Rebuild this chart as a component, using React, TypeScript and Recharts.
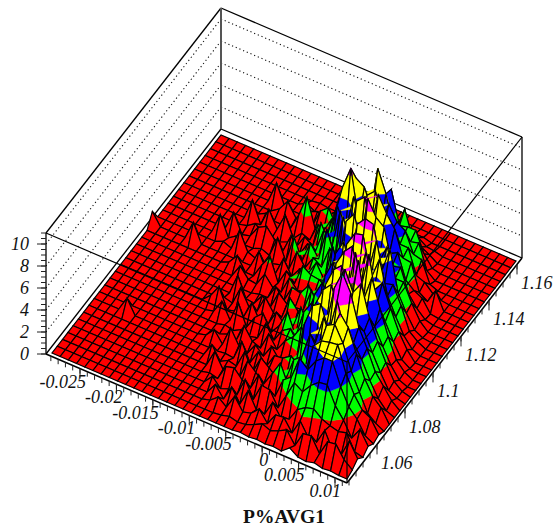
import React from 'react';
import { ScatterChart, Scatter, XAxis, YAxis } from 'recharts';

const WIDTH = 553;
const HEIGHT = 530;

const xLabels = ['-0.025', '-0.02', '-0.015', '-0.01', '-0.005', '0', '0.005', '0.01'];
const xMajor = [-0.025, -0.02, -0.015, -0.01, -0.005, 0, 0.005, 0.01];
const yLabels = ['1.06', '1.08', '1.1', '1.12', '1.14', '1.16'];
const yMajor = [1.06, 1.08, 1.1, 1.12, 1.14, 1.16];
const zMajor = [0, 2, 4, 6, 8, 10];
const zMax = 11;

const bandLevels = [0, 2, 4, 6, 8, 10, 99];
const bandColors = ['#ff0000', '#00ff00', '#0000ff', '#ffff00', '#ff00ff', '#00ffff'];

// surface heights, one row per x step (front of the row = lowest y)
const heights: number[][] = [
  [0,0,0,0,0,0,0,0,0,0,0,0,0,0,0,0,0,0,0,1.1],
  [],
  [],
  [],
  [0,0,0,0,0,0,0,0,1.3],
  [0,0,0,0,0,0,0,0,0,0,0,0,0,0,0,0,0,0,0,1.7],
  [],
  [0,0,0,0,0,0,0,0,0,0,0,0,0,0,0,0,0,0,0,0,0,1.8],
  [0,0,0,0,0,0,0,0,0,0,0,0,0,0,0,0,0,0,0,0,.3,0,1.7],
  [0,0,0,0,0,0,0,0,0,0,0,0,0,0,0,0,0,0,0,0,0,.5,0,.2,1.9],
  [0,0,0,0,0,0,0,0,0,0,0,0,0,0,0,0,0,0,.3,0,1.95,0,.2,.7,0,.4,0,1.9],
  [0,0,0,0,0,0,0,0,0,0,0,0,0,.7,0,0,0,0,1.2,0,.3,0,1.3,0,1.7,0,.5,.1],
  [0,0,0,0,0,0,0,0,0,0,0,0,.2,1.8,.2,0,0,1.2,0,0,0,.3,1.7,0,.2,0,1.5,0,0],
  [0,0,0,0,0,0,0,0,0,.2,0,0,1.4,0,0,1.9,0,.3,0,1.6,0,0,.8,0,1.8,0,.3,0,.4],
  [0,0,0,0,0,0,0,0,0,1.0,0,.2,0,.2,1.7,.1,0,.2,1.3,0,.2,1.9,.1,.3,0,1.5,0,.6,0,.1],
  [0,0,0,0,0,0,0,1.2,0,0,.3,0,1.9,0,.3,0,.2,1.4,2.4,.2,.4,.1,1.8,.2,.8,3.5,.2,.9,.1],
  [0,0,0,0,0,.2,1.5,0,.1,1.8,0,.4,0,1.6,.2,1.0,.2,.5,.3,1.9,.3,2.6,.4,1.4,.5,.9,1.9,.2,.4],
  [0,0,0,0,.8,0,.2,.4,0,.5,1.7,.1,1.2,.2,1.8,.3,1.5,.4,1.7,.6,2.2,.8,1.7,.9,2.2,1.0,2.5,.4,.8,.1],
  [0,0,.2,1.0,0,1.4,.1,.2,1.8,.1,.6,.3,1.9,.3,.7,1.9,.6,2.0,.9,1.6,1.1,2.7,1.4,3.3,1.3,2.4,1.0,1.2,.2],
  [0,0,.8,0,.3,1.6,.1,1.8,.2,1.2,.3,1.9,.5,1.7,.6,1.2,2.1,1.2,2.8,1.5,2.3,1.6,3.6,1.8,3.9,1.9,2.4,.6,.9,.1],
  [0,.1,.2,1.4,.1,.8,1.9,.3,1.5,.5,1.9,.7,1.4,.9,2.7,1.2,1.9,1.4,2.3,2.8,1.8,4.6,2.4,5.5,6.6,3.0,3.4,.7,.4,.2],
  [0,.3,1.5,.2,1.8,.4,1.2,1.9,.5,1.7,.8,1.9,3.0,1.0,1.8,1.3,2.9,1.4,2.2,1.5,3.8,2.3,6.0,3.5,8.6,7.1,4.6,1.0,.6,.2],
  [0,.1,.4,1.7,.3,1.9,.5,1.3,1.8,.7,1.9,2.4,1.1,3.1,1.3,3.4,1.5,2.8,1.7,4.9,2.6,6.4,3.3,7.0,4.0,6.6,3.0,2.0,.4],
  [.1,.2,.6,.3,1.9,.5,1.7,.6,1.9,1.0,2.6,1.2,3.6,1.5,3.9,1.8,4.4,2.0,5.2,2.6,6.9,3.5,7.5,4.0,6.8,4.6,8.0,3.4,1.4,.3],
  [0,.5,1.3,.2,1.8,.6,3.0,.9,2.4,1.3,3.8,1.8,4.8,2.2,5.4,2.6,6.0,3.0,6.6,3.4,7.9,4.0,8.2,4.4,7.5,3.6,6.0,5.8,1.6,.5],
  [.1,.9,.3,1.6,.5,2.4,1.2,3.0,1.8,5.0,2.4,5.5,2.8,6.1,3.2,6.8,3.6,7.3,4.0,7.9,4.6,9.0,4.8,8.1,4.2,6.0,3.0,2.8,3.7,.9,.2],
  [0,.6,1.4,.5,1.9,3.0,2.0,3.6,2.8,7.0,3.6,7.2,4.0,7.8,4.4,8.2,5.0,8.6,5.2,8.7,5.0,7.6,5.4,6.7,4.6,4.7,2.6,3.0,1.2,.8,.2],
  [.1,.9,1.5,.7,3.4,5.0,3.0,6.0,4.6,7.5,4.8,8.0,5.0,8.5,5.2,9.0,5.0,8.8,4.8,8.5,4.4,7.0,4.0,5.6,3.6,4.2,2.6,3.0,.9,.3],
  [0,1.3,.4,1.9,2.9,4.3,5.8,4.6,7.2,5.2,8.6,5.4,9.1,5.4,9.4,5.4,8.2,5.2,8.0,4.6,6.2,3.8,4.4,3.3,3.6,2.4,2.8,1.2,.5,.2],
  [.6,.2,1.8,2.4,3.8,5.4,6.6,7.4,5.2,8.4,10.3,5.6,7.3,9.6,5.4,8.9,5.0,7.2,4.4,6.9,3.6,4.0,2.2,3.2,1.4,2.2,.6,.2],
  [.1,1.6,.6,2.6,4.4,6.0,6.8,7.8,8.2,5.8,8.8,5.6,8.4,5.2,7.7,4.6,6.0,4.2,4.6,3.2,3.6,1.9,1.6,.8,1.1,.3],
  [0,1.7,.5,2.0,4.5,6.0,6.9,6.4,7.2,5.2,6.0,5.0,5.6,4.2,5.2,3.4,4.0,2.6,3.0,1.7,2.0,.9,1.2,.3,.4],
  [.2,.4,1.9,1.7,2.9,4.0,4.6,4.2,5.1,4.0,4.4,3.4,3.8,2.7,3.0,1.9,2.2,1.2,1.0,.5,.7,.2,.1,1.6,.1],
  [0,1.8,.3,1.5,1.9,2.5,3.0,2.6,3.2,2.4,2.6,1.9,2.2,1.3,1.2,.6,.9,.3,.4,.1],
  [.1,1.9,.3,1.7,.6,1.7,1.9,1.0,1.9,1.1,1.6,.6,.8,.3,.4,.1],
  [0,.8,1.9,.3,1.7,.5,1.5,.4,1.2,.3,.6,.2,.2],
  [0,.2,.6,.1,.5,.1,.3],
];

const cellsX = heights.length - 1;
const cellsY = 32;

// oblique projection of the box onto the page
type Pt = { x: number; y: number };
const origin: Pt = { x: 46, y: 354 };
const boxX: Pt = { x: 301, y: 129 };
const boxY: Pt = { x: 175, y: -225 };
const zPx = 11;

const surfaceStart: Pt = { x: 52, y: 353 };
const stepX: Pt = { x: 295 / cellsX, y: 126 / cellsX };
const stepY: Pt = { x: 169 / cellsY, y: -218 / cellsY };

const gridPoint = (i: number, j: number) => {
  const z = heights[i]?.[j] ?? 0;
  return {
    x: surfaceStart.x + i * stepX.x + j * stepY.x,
    y: surfaceStart.y + i * stepX.y + j * stepY.y - z * zPx,
    z,
  };
};

const boxPoint = (tx: number, ty: number, z: number): Pt => ({
  x: origin.x + tx * boxX.x + ty * boxY.x,
  y: origin.y + tx * boxX.y + ty * boxY.y - z * zPx,
});

type P3 = { x: number; y: number; z: number };

const clipZ = (poly: P3[], level: number, keepAbove: boolean) => {
  const out: P3[] = [];
  poly.forEach((a, n) => {
    const b = poly[(n + 1) % poly.length];
    const aIn = keepAbove ? a.z >= level : a.z <= level;
    const bIn = keepAbove ? b.z >= level : b.z <= level;
    if (aIn) out.push(a);
    if (aIn !== bIn) {
      const t = (level - a.z) / (b.z - a.z);
      out.push({ x: a.x + t * (b.x - a.x), y: a.y + t * (b.y - a.y), z: level });
    }
  });
  return out;
};

const cellRows: any[] = [];
for (let i = 0; i < cellsX; i++) {
  for (let j = cellsY - 1; j >= 0; j--) {
    const corners = [gridPoint(i, j), gridPoint(i + 1, j), gridPoint(i + 1, j + 1), gridPoint(i, j + 1)];
    const bands = bandColors.map((fill, b) => {
      const pts = clipZ(clipZ(corners, bandLevels[b], true), bandLevels[b + 1], false);
      return { fill, pts };
    }).filter(b => b.pts.length > 2);
    cellRows.push({ sx: corners[0].x, sy: corners[0].y, corners, bands });
  }
}

const CellShape = (props: any) => {
  const { cx, cy, payload } = props;
  const path = (pts: Pt[]) =>
    pts.map(p => `${(p.x - payload.sx + cx).toFixed(2)},${(p.y - payload.sy + cy).toFixed(2)}`).join(' ');
  return (
    <g>
      {payload.bands.map((b: any, n: number) => (
        <polygon key={n} points={path(b.pts)} fill={b.fill} stroke={b.fill} strokeWidth={0.4} />
      ))}
      <polygon points={path(payload.corners)} fill="none" stroke="#000" strokeWidth={1.2} />
    </g>
  );
};

const seg = (a: Pt, b: Pt) => ({ sx: a.x, sy: a.y, ex: b.x, ey: b.y });

const LineShape = (stroke: string, width: number, dash?: string) => (props: any) => {
  const { cx, cy, payload } = props;
  return (
    <line
      x1={cx}
      y1={cy}
      x2={cx + payload.ex - payload.sx}
      y2={cy + payload.ey - payload.sy}
      stroke={stroke}
      strokeWidth={width}
      strokeDasharray={dash}
    />
  );
};

const TextShape = (props: any) => {
  const { cx, cy, payload } = props;
  return (
    <text
      x={cx}
      y={cy}
      textAnchor={payload.anchor}
      fontFamily="'Liberation Serif'"
      fontSize={payload.size}
      fontStyle={payload.bold ? 'normal' : 'italic'}
      fontWeight={payload.bold ? 'bold' : 'normal'}
      fill="#111"
    >
      {payload.label}
    </text>
  );
};

const L0 = boxPoint(0, 0, 0);
const F0 = boxPoint(1, 0, 0);
const B0 = boxPoint(0, 1, 0);
const R0 = boxPoint(1, 1, 0);
const L1 = boxPoint(0, 0, zMax);
const F1 = boxPoint(1, 0, zMax);
const B1 = boxPoint(0, 1, zMax);
const R1 = boxPoint(1, 1, zMax);

const wallLines = [seg(L0, L1), seg(L1, B1), seg(B1, R1), seg(R1, R0), seg(L0, B0), seg(B0, R0)];
const backEdge = [seg(B0, B1)];
const floorEdges = [seg(L0, F0), seg(F0, R0)];
const overLines = [seg(L1, F1), seg(F1, R1), seg(F1, F0)];

const wallDots = zMajor.filter(z => z > 0).flatMap(z => [
  seg(boxPoint(0, 0, z), boxPoint(0, 1, z)),
  seg(boxPoint(0, 1, z), boxPoint(1, 1, z)),
]);

// axis fractions along the box edges
const xFrac = (v: number) => (80 + ((v + 0.025) / 0.005) * 36.43 - origin.x) / boxX.x;
const yFrac = (v: number) => (517 + ((v - 1.16) / 0.02) * 28 - F0.x) / boxY.x;

const xEdge = (v: number) => boxPoint(xFrac(v), 0, 0);
const yEdge = (v: number) => boxPoint(1, yFrac(v), 0);

const tickDown = (p: Pt, len: number) => seg(p, { x: p.x, y: p.y + len });

const xMinor: number[] = [];
for (let n = -29; n <= 11; n++) xMinor.push(n / 1000);
const yMinor: number[] = [];
for (let n = 208; n <= 232; n++) yMinor.push(n / 200);
const zMinor: number[] = [];
for (let n = 0; n <= 22; n++) zMinor.push(n / 2);

const tickLines = [
  ...xMinor.map(v => tickDown(xEdge(v), 5)),
  ...xMajor.map(v => tickDown(xEdge(v), 10)),
  ...yMinor.map(v => tickDown(yEdge(v), 5)),
  ...yMajor.map(v => tickDown(yEdge(v), 10)),
  ...zMinor.map(z => seg(boxPoint(0, 0, z), { x: origin.x - 5, y: origin.y - z * zPx })),
  ...zMajor.map(z => seg(boxPoint(0, 0, z), { x: origin.x - 9, y: origin.y - z * zPx })),
];

const textRows = [
  ...xMajor.map((v, n) => {
    const p = xEdge(v);
    return { sx: p.x + 6, sy: p.y + 19, label: xLabels[n], anchor: 'end', size: 18 };
  }),
  ...yMajor.map((v, n) => {
    const p = yEdge(v);
    return { sx: p.x + 4, sy: p.y + 25, label: yLabels[n], anchor: 'start', size: 18 };
  }),
  ...zMajor.map(z => ({ sx: 29, sy: origin.y - z * zPx + 6, label: String(z), anchor: 'end', size: 18 })),
  { sx: 284, sy: 523, label: 'P%AVG1', anchor: 'middle', size: 19.5, bold: true },
];

const Series = (data: any[], shape: any, key: string) => (
  <Scatter key={key} data={data} dataKey="sy" shape={shape} isAnimationActive={false} />
);

export default function App() {
  return (
    <div style={{ position: 'absolute', left: 0, top: 0, width: WIDTH, height: HEIGHT }}>
      <ScatterChart width={WIDTH} height={HEIGHT} margin={{ top: 0, right: 0, bottom: 0, left: 0 }}>
        <XAxis type="number" dataKey="sx" domain={[0, WIDTH]} hide />
        <YAxis type="number" dataKey="sy" domain={[0, HEIGHT]} reversed hide />
        {Series(wallDots, LineShape('#111', 1.1, '1.2 2.8'), 'dots')}
        {Series(wallLines, LineShape('#000', 1.3), 'walls')}
        {Series(backEdge, LineShape('#555', 2), 'back')}
        {Series(floorEdges, LineShape('#000', 1.6), 'floor')}
        {Series(tickLines, LineShape('#222', 1), 'ticks')}
        {Series(cellRows, CellShape, 'surface')}
        {Series(overLines, LineShape('#000', 1.2), 'over')}
        {Series(textRows, TextShape, 'text')}
      </ScatterChart>
    </div>
  );
}
